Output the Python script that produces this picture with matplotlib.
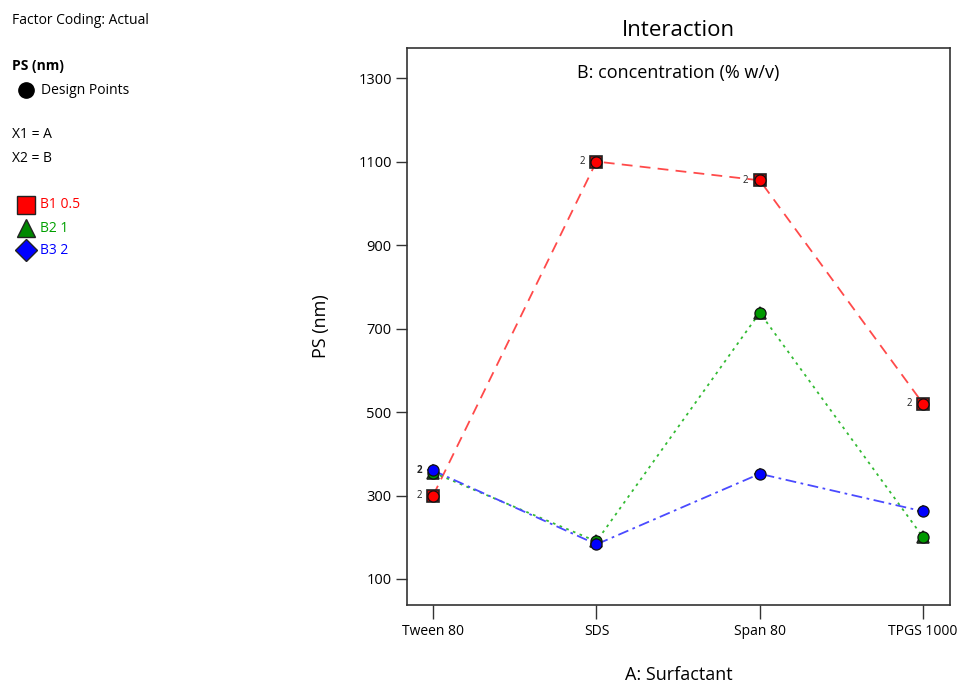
import matplotlib
matplotlib.use("Agg")
import matplotlib.pyplot as plt
from matplotlib.lines import Line2D

plt.rcParams['font.family'] = ['Open Sans', 'DejaVu Sans']

categories = ["Tween 80", "SDS", "Span 80", "TPGS 1000"]
b1_vals = [300, 1100, 1055, 520]
b2_vals = [355, 190, 738, 200]
b3_vals = [360, 183, 352, 262]
series_names = ["B1 0.5", "B2 1", "B3 2"]
yticks = [100, 300, 500, 700, 900, 1100, 1300]
# replicate labels: (series index, category index)
rep_labels = [(0, 0), (2, 0), (0, 1), (0, 2), (0, 3)]

W, H = 959, 686
fig = plt.figure(figsize=(W / 100, H / 100), dpi=100)
ax = fig.add_axes([407 / W, 1 - 605 / H, (950 - 407) / W, (605 - 48) / H])

colors = ['#ff0000', '#00a000', '#0000ff']
line_colors = ['#ff4a4a', '#33bb33', '#4a4aff']
styles = [(0, (6, 4)), (0, (1.5, 2.5)), (0, (6, 2.5, 1.5, 2.5))]
mean_markers = ['s', '^', 'D']
mean_sizes = [8.5, 8.5, 5.5]
series = [b1_vals, b2_vals, b3_vals]
x = list(range(len(categories)))

for i, vals in enumerate(series):
    ax.plot(x, vals, color=line_colors[i], linestyle=styles[i], linewidth=1.3, zorder=2)
for i, vals in enumerate(series):
    ax.plot(x, vals, linestyle='none', marker=mean_markers[i], markersize=mean_sizes[i],
            markerfacecolor=colors[i] if i != 0 else '#cc0000', markeredgecolor='#222222',
            markeredgewidth=1.2, zorder=3 + i)
    ax.plot(x, vals, linestyle='none', marker='o', markersize=8,
            markerfacecolor=colors[i] if i != 1 else '#009900', markeredgecolor='#111111',
            markeredgewidth=0.9, zorder=3 + i)

for si, ci in rep_labels:
    ax.annotate("2", (x[ci], series[si][ci]), xytext=(-14, 0), textcoords='offset pixels',
                ha='center', va='center', fontsize=7, color='#222222',
                fontweight='bold' if si == 2 else 'normal', zorder=10)

ax.set_xlim(-0.16, 3.165)
ax.set_ylim(37.7, 1372)
ax.set_xticks(x)
ax.set_xticklabels(categories, fontsize=10)
ax.set_yticks(yticks)
ax.set_yticklabels([str(v) for v in yticks], fontsize=10.5)
ax.tick_params(axis='y', length=8, width=1, color='#333333', pad=3)
ax.tick_params(axis='x', length=10, width=1, color='#333333', pad=4)
for s in ax.spines.values():
    s.set_color('#333333')
    s.set_linewidth(1.2)

ax.set_xlabel("A: Surfactant", fontsize=13, labelpad=19)
ax.set_ylabel("PS (nm)", fontsize=13, labelpad=20)
fig.text(678 / W, 1 - 31 / H, "Interaction", fontsize=16, ha='center', va='center')
ax.text(0.5, 0.955, "B: concentration (% w/v)", transform=ax.transAxes, fontsize=13,
        ha='center', va='center')

# left info panel
def ft(px, py, s, **kw):
    fig.text(px / W, 1 - py / H, s, va='center', **kw)

ft(12, 21, "Factor Coding: Actual", fontsize=10)
ft(12, 66, "PS (nm)", fontsize=10, fontweight='bold')
fig.add_artist(Line2D([26 / W], [1 - 90 / H], marker='o', markersize=11,
                      color='black', transform=fig.transFigure))
ft(41, 90, "Design Points", fontsize=10)
ft(12, 135, "X1 = A", fontsize=10)
ft(12, 158, "X2 = B", fontsize=10)
leg_markers = ['s', '^', 'D']
leg_sizes = [13, 13, 11]
leg_fill = ['#ff0000', '#008800', '#0000ff']
leg_y = [205, 228, 250]
for i in range(3):
    fig.add_artist(Line2D([26 / W], [1 - leg_y[i] / H], marker=leg_markers[i],
                          markersize=leg_sizes[i], markerfacecolor=leg_fill[i],
                          markeredgecolor='#222222', markeredgewidth=1.0,
                          linestyle='none', transform=fig.transFigure))
    ft(40, leg_y[i], series_names[i], fontsize=10, color=colors[i])

fig.savefig("out.png", dpi=100)
